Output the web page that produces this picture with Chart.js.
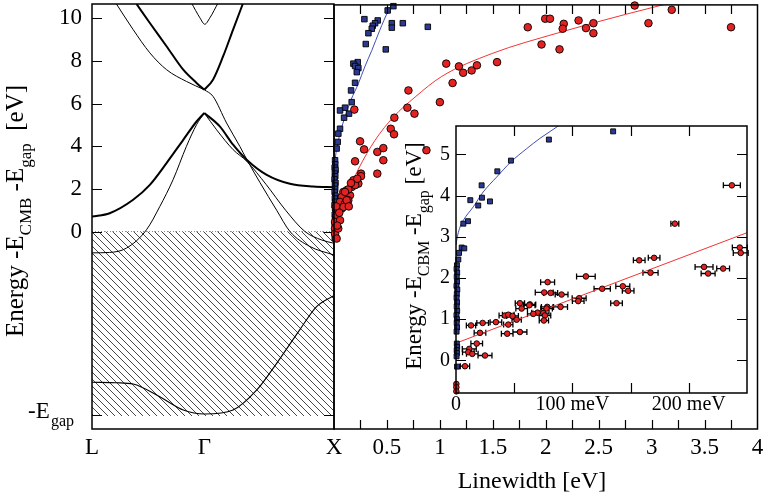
<!DOCTYPE html>
<html>
<head>
<meta charset="utf-8">
<script src="https://cdn.jsdelivr.net/npm/chart.js@4.4.0/dist/chart.umd.min.js"></script>
<style>
body { margin: 0; background: #fff; }
#wrap { position: relative; width: 764px; height: 496px; }
#wrap canvas { position: absolute; left: 0; top: 0; }
</style>
</head>
<body>
<div id="wrap">
	<canvas id="bands" width="764" height="496"></canvas>
	<canvas id="main" width="764" height="496"></canvas>
	<canvas id="inset" width="764" height="496"></canvas>
</div>
<script>
const FONT = "'Liberation Serif', 'Times New Roman', serif";
Chart.defaults.font.family = FONT;
Chart.defaults.color = '#000';

// ---- left panel: bands along L - Gamma - X (k: L=0, X=1)
const kTickPos = [0, 0.464, 1];
const kTickText = ['L', 'Γ', 'X'];
const energyTicks = [-8.6, 0, 2, 4, 6, 8, 10];
const eGap = -8.6;
const hatchBottom = -8.65;
const eMin = -9.26, eMax = 10.67;

// [k, E]
const bandCondL = [[0,0.7],[0.073,0.86],[0.17,1.49],[0.239,2.19],[0.308,3.21],[0.377,4.3],[0.432,5.16],[0.464,5.56]];
const bandCondR = [[0.464,5.56],[0.528,4.93],[0.583,4.07],[0.639,3.37],[0.722,2.66],[0.818,2.24],[0.914,2.11],[1,2.08]];
const bandThinL = [[0,-1.0],[0.073,-0.98],[0.142,-0.78],[0.225,0.08],[0.28,1.17],[0.335,2.43],[0.39,3.99],[0.432,5.01],[0.464,5.56]];
const bandThinR1 = [[0.464,5.56],[0.515,4.77],[0.583,3.84],[0.639,3.3],[0.72,2.2],[0.8,1.0],[0.88,0],[0.95,-0.4],[1,-0.55]];
const bandThinR2 = [[0.464,6.65],[0.5,6.34],[0.556,5.09],[0.611,3.99],[0.639,3.39],[0.694,2.3],[0.763,1.0],[0.818,0],[0.9,-0.7],[1,-1.1]];
const bandUpThin = [[0.101,10.67],[0.17,9.47],[0.239,8.38],[0.308,7.59],[0.39,7.04],[0.464,6.65]];
const bandUpThickL = [[0.184,10.67],[0.239,9.78],[0.308,8.69],[0.377,7.59],[0.432,6.97],[0.464,6.65]];
const bandUpThickR = [[0.464,6.65],[0.5,7.12],[0.542,8.22],[0.583,9.47],[0.623,10.67]];
const bandTop = [[0.411,10.72],[0.446,10.02],[0.466,9.72],[0.487,10.02],[0.521,10.72]];
const bandLow = [[0,-7.07],[0.101,-7.09],[0.17,-7.15],[0.28,-7.75],[0.377,-8.37],[0.466,-8.56],[0.583,-8.37],[0.681,-7.43],[0.763,-6.18],[0.859,-4.6],[0.928,-3.52],[1,-3.0]];

// ---- right panel: linewidth [eV] vs energy
const mainTickVals = [0, 0.5, 1, 1.5, 2, 2.5, 3, 3.5, 4];
const mainTickText = ['', '0.5', '1', '1.5', '2', '2.5', '3', '3.5', '4'];
const mainMinor = [0.25, 0.5, 0.75, 1, 1.25, 1.5, 1.75, 2, 2.25, 2.5, 2.75, 3, 3.25, 3.5, 3.75];

const mainBlueX = [0.561,0.507,0.287,0.413,0.388,0.366,0.357,0.325,0.546,0.546,0.650,0.886,0.300,0.489,0.224,0.183,0.199,0.230,0.215,0.199,0.161,0.167,0.104,0.057,0.142,0.095,0.057,0.041,0.035,0.025,0.010,
	0.012,0.006,0.015,0.008,0.012,0.005,0.014,0.009,0.011,0.006,0.013,0.008,0.012,0.005,0.010,0.014,0.007,0.011,0.009,0.006,0.012,0.008,0.010,0.007];
const mainBlueY = [10.61,10.41,10.0,9.94,9.81,9.69,9.55,9.34,9.81,9.60,9.81,9.64,8.83,8.58,7.98,7.91,7.80,7.70,7.51,7.01,6.65,6.10,5.84,5.71,5.56,5.37,4.85,4.62,4.23,3.92,3.37,
	3.18,3.02,2.91,2.74,2.62,2.47,2.31,2.18,2.02,1.88,1.71,1.57,1.42,1.26,1.12,0.97,0.81,0.66,0.52,0.37,0.21,0.08,-0.09,-0.27];
const mainRedX = [2.84,3.19,3.75,2.97,1.995,2.04,1.83,2.17,2.16,2.31,2.38,2.45,2.45,1.96,2.13,1.54,1.06,1.18,1.22,1.30,1.35,1.12,1.0,0.703,0.693,0.760,0.873,0.570,0.536,0.567,0.192,0.246,0.284,0.199,0.409,0.466,0.466,0.409,0.255,0.255,0.230,0.199,0.183,0.167,0.151,0.120,0.088,0.073,0.057,0.135,0.104,0.073,0.041,0.025,0.01,0.01,0.01,0.025,0.04,0.057,0.088,0.12,0.135,0.104,0.2,0.22,0.03,0.02,0.05,0.14,0.16];
const mainRedY = [10.64,10.44,9.62,9.81,10.02,10.02,9.62,9.78,9.55,9.94,9.58,9.81,9.34,8.81,8.58,7.98,7.91,7.78,7.48,7.59,7.83,7.00,6.10,6.65,5.84,5.56,3.84,5.37,4.85,4.59,5.75,4.26,3.88,3.32,3.76,3.94,3.37,2.74,2.74,2.62,2.27,2.35,2.43,2.11,1.72,1.96,1.88,1.64,1.41,1.49,1.33,1.10,1.02,0.78,0.47,0.16,-0.08,-0.31,0.16,0.55,1.17,1.49,2.0,1.88,2.2,2.5,0.3,1.2,0.9,1.2,2.3];
const mainBlueFitX = [0.005,0.01,0.03,0.06,0.104,0.16,0.23,0.29,0.357,0.43,0.514,0.56];
const mainBlueFitY = [2.8,3.3,4.0,4.7,5.4,6.2,6.97,7.75,8.53,9.45,10.41,10.8];
const mainRedFitX = [0,0.1,0.23,0.388,0.561,0.766,1.018,1.49,2.12,2.75,3.08,3.3];
const mainRedFitY = [0.42,1.5,2.95,4.31,5.40,6.34,7.31,8.38,9.36,10.22,10.64,10.9];

// ---- inset: linewidth [meV]
const insetTickVals = [0, 100, 200];
const insetTickText = ['0', '100 meV', '200 meV'];
const insetMinor = [50, 100, 150, 200];
const insetYTicks = [0, 1, 2, 3, 4, 5];
const insetBlueX = [135,79.8,47.2,35.5,22,22.3,29.2,12.3,19.1,10.3,6.3,4.9,7.1,2.6,2.0,
	0.8,0.5,1.0,0.6,0.9,0.4,1.1,0.7,0.5,0.9,0.6,1.0,0.4,0.8,0.6,0.9,0.5,0.7,1.0,0.6,0.8,0.5,0.9];
const insetBlueY = [5.56,5.36,4.85,4.59,4.25,3.95,3.86,3.89,3.76,3.38,3.32,2.74,2.72,2.61,2.45,
	2.31,2.22,2.13,2.03,1.91,1.81,1.72,1.61,1.52,1.41,1.31,1.2,1.1,1.0,0.91,0.8,0.7,0.41,0.33,0.25,0.18,0.1,-0.15];
const insetRedX = [237,188,243.8,244.6,170.2,157.4,167.1,213.1,216.6,229.5,111.6,125.6,143.3,147.9,78.7,75.8,81.3,90.7,105.8,137.9,54.9,63.5,56.4,62.9,89.8,105,78.4,77.8,70.1,66.4,74.9,76.4,75.5,42,44.9,48.6,52.1,44.9,34.3,22.9,12.9,20.6,44,54.9,17.8,11.4,10.6,14,24.9,7.7,0.3,0.3,0.3];
const insetRedY = [4.25,3.32,2.74,2.61,2.49,2.43,2.13,2.27,2.11,2.23,2.04,1.74,1.80,1.69,1.90,1.65,1.64,1.60,1.51,1.39,1.39,1.36,1.26,1.34,1.30,1.44,1.30,1.26,1.16,1.13,1.15,1.09,0.97,1.09,1.11,1.08,0.99,0.87,0.93,0.91,0.85,0.67,0.65,0.69,0.41,0.28,0.20,0.16,0.12,-0.14,-0.57,-0.65,-0.75];
const insetRedErr = [7.3,3.4,6.4,6.4,5,5,6.5,7.7,6,5.5,8,7,6,5,6,7.7,6,5.5,6,5,4,5,5,5,6,5,5,5,5,5,5,5,4,5,5,5,4,4,5,5,4,5,5,6,5,6,5,5,6,4,0,0,0];
const insetBlueFitX = [0,1,3,6.3,14.9,23.4,34.9,47.2,60.7,72.1,87.8,95];
const insetBlueFitY = [2.8,2.98,3.2,3.40,3.73,4.09,4.45,4.82,5.14,5.39,5.69,5.85];
const insetRedFitX = [0, 250];
const insetRedFitY = [0.42, 3.1];

const RED = '#e52222', BLUE = '#2b3990';

// helpers
const pairs = a => a.map(p => ({x: p[0], y: p[1]}));
const zip = (xs, ys) => xs.map((x, i) => ({x: x, y: ys[i]}));

function bandLine(arr, w) {
	return {data: pairs(arr), borderColor: '#000', borderWidth: w, pointRadius: 0,
		cubicInterpolationMode: 'monotone', tension: 0.4, fill: false};
}
function marks(data, style, r, color) {
	return {data: data, showLine: false, pointStyle: style, pointRadius: r,
		pointBackgroundColor: color, pointBorderColor: '#000', pointBorderWidth: 0.9, clip: false};
}
function fitLine(data, color) {
	return {data: data, borderColor: color, borderWidth: 1, pointRadius: 0,
		cubicInterpolationMode: 'monotone', tension: 0.4, fill: false};
}
// keep chart areas exactly where the reference has them
function fixX(h) {
	return s => { s.height = h; s.paddingLeft = 0; s.paddingRight = 0; };
}
function fixY(w) {
	return s => { s.width = w; s.paddingTop = 0; s.paddingBottom = 0; };
}

function frame(w) {
	return {id: 'frame', afterDraw(chart) {
		const a = chart.chartArea, c = chart.ctx;
		c.save(); c.strokeStyle = '#000'; c.lineWidth = w;
		c.strokeRect(a.left, a.top, a.right - a.left, a.bottom - a.top);
		c.restore();
	}};
}
function innerTicks(xVals, yVals, len) {
	return {id: 'innerTicks', afterDatasetsDraw(chart) {
		const a = chart.chartArea, c = chart.ctx;
		const xs = chart.scales.x, ys = chart.scales.y;
		c.save(); c.strokeStyle = '#000'; c.lineWidth = 1.2; c.beginPath();
		xVals.forEach(v => {
			const p = Math.round(xs.getPixelForValue(v)) + 0.5;
			c.moveTo(p, a.bottom); c.lineTo(p, a.bottom - len);
			c.moveTo(p, a.top); c.lineTo(p, a.top + len);
		});
		yVals.forEach(v => {
			const p = Math.round(ys.getPixelForValue(v)) + 0.5;
			c.moveTo(a.left, p); c.lineTo(a.left + len, p);
			c.moveTo(a.right, p); c.lineTo(a.right - len, p);
		});
		c.stroke(); c.restore();
	}};
}
// text with subscripts, optionally rotated, centred on (cx, baseline)
function richText(c, cx, cy, parts, size, subSize, subDrop, rotated) {
	c.save();
	c.fillStyle = '#000'; c.textBaseline = 'alphabetic'; c.textAlign = 'left';
	let total = 0;
	parts.forEach(p => { c.font = (p.sub ? subSize : size) + 'px ' + FONT; p.w = c.measureText(p.t).width; total += p.w; });
	c.translate(cx, cy);
	if (rotated) c.rotate(-Math.PI / 2);
	let x = -total / 2;
	parts.forEach(p => {
		c.font = (p.sub ? subSize : size) + 'px ' + FONT;
		c.fillText(p.t, x, p.sub ? subDrop : 0);
		x += p.w;
	});
	c.restore();
}

// hatch pattern for the filled valence region
const bandsCanvas = document.getElementById('bands');
const tile = document.createElement('canvas');
tile.width = 7; tile.height = 7;
(function () {
	const g = tile.getContext('2d');
	g.strokeStyle = '#333'; g.lineWidth = 0.9;
	g.beginPath();
	g.moveTo(0, 0); g.lineTo(7, 7);
	g.moveTo(-1, 6); g.lineTo(1, 8);
	g.moveTo(6, -1); g.lineTo(8, 1);
	g.stroke();
})();
const hatch = bandsCanvas.getContext('2d').createPattern(tile, 'repeat');

const common = {responsive: false, animation: false, events: [],
	plugins: {legend: {display: false}, tooltip: {enabled: false}}};
const noGrid = {display: false, drawTicks: false};

// left chart
new Chart(bandsCanvas, {
	type: 'line',
	data: {datasets: [
		bandLine(bandCondL, 2), bandLine(bandCondR, 2),
		bandLine(bandThinL, 1), bandLine(bandThinR1, 1), bandLine(bandThinR2, 1),
		bandLine(bandUpThin, 1), bandLine(bandUpThickL, 2), bandLine(bandUpThickR, 2),
		bandLine(bandTop, 1), bandLine(bandLow, 1.1),
		{data: pairs([[0, 0], [1, 0]]), borderColor: '#888', borderWidth: 1, borderDash: [1, 2],
			pointRadius: 0, fill: {value: hatchBottom}, backgroundColor: hatch}
	]},
	options: Object.assign({}, common, {
		layout: {padding: {left: 0, top: 4, right: 430, bottom: 0}},
		scales: {
			x: {type: 'linear', min: 0, max: 1, grid: noGrid, border: {display: false},
				afterBuildTicks: s => { s.ticks = kTickPos.map(v => ({value: v})); },
				afterFit: fixX(67),
				ticks: {autoSkip: false, maxRotation: 0, padding: 5, font: {size: 23},
					callback: (v, i) => kTickText[i]}},
			y: {min: eMin, max: eMax, grid: noGrid, border: {display: false},
				afterBuildTicks: s => { s.ticks = energyTicks.map(v => ({value: v})); },
				afterFit: fixY(92),
				ticks: {autoSkip: false, padding: 10, font: {size: 23},
					callback: v => (v === eGap ? '' : String(v))}}
		}
	}),
	plugins: [frame(1.5), innerTicks([], energyTicks, 10), {
		id: 'labels', afterDraw(chart) {
			const c = chart.ctx, y = chart.scales.y.getPixelForValue(eGap);
			c.save(); c.fillStyle = '#000'; c.textBaseline = 'alphabetic';
			c.font = '23px ' + FONT; c.textAlign = 'left';
			c.fillText('-E', 28, y + 3);
			c.font = '16px ' + FONT;
			c.fillText('gap', 51, y + 11);
			c.restore();
			richText(c, 23, 211, [{t: 'Energy -E'}, {t: 'CMB', sub: true}, {t: ' -E'}, {t: 'gap', sub: true}, {t: '  [eV]'}],
				25, 17, 8, true);
		}
	}]
});

// right chart
new Chart(document.getElementById('main'), {
	type: 'line',
	data: {datasets: [
		marks(zip(mainRedX, mainRedY), 'circle', 3.8, RED),
		marks(zip(mainBlueX, mainBlueY), 'rect', 3.9, BLUE),
		fitLine(zip(mainRedFitX, mainRedFitY), '#f03535'),
		fitLine(zip(mainBlueFitX, mainBlueFitY), '#3f4fb5')
	]},
	options: Object.assign({}, common, {
		layout: {padding: {left: 334, top: 4, right: 6.5, bottom: 0}},
		scales: {
			x: {type: 'linear', min: 0, max: 4, grid: noGrid, border: {display: false},
				afterBuildTicks: s => { s.ticks = mainTickVals.map(v => ({value: v})); },
				afterFit: fixX(67),
				ticks: {autoSkip: false, maxRotation: 0, padding: 5, font: {size: 23},
					callback: (v, i) => mainTickText[i]}},
			y: {display: false, min: eMin, max: eMax}
		}
	}),
	plugins: [frame(1.5), innerTicks(mainMinor, [], 9), {
		id: 'xtitle', afterDraw(chart) {
			richText(chart.ctx, 532, 488, [{t: 'Linewidth [eV]'}], 24, 16, 0, false);
		}
	}]
});

// inset chart
new Chart(document.getElementById('inset'), {
	type: 'line',
	data: {datasets: [
		marks(zip(insetRedX, insetRedY), 'circle', 2.8, RED),
		marks(zip(insetBlueX, insetBlueY), 'rect', 3.5, BLUE),
		fitLine(zip(insetRedFitX, insetRedFitY), '#f03535'),
		fitLine(zip(insetBlueFitX, insetBlueFitY), '#3f4fb5')
	]},
	options: Object.assign({}, common, {
		layout: {padding: {left: 0, top: 126, right: 17, bottom: 0}},
		scales: {
			x: {type: 'linear', min: 0, max: 250, grid: noGrid, border: {display: false},
				afterBuildTicks: s => { s.ticks = insetTickVals.map(v => ({value: v})); },
				afterFit: fixX(103),
				ticks: {autoSkip: false, maxRotation: 0, padding: 0, font: {size: 20},
					callback: (v, i) => insetTickText[i]}},
			y: {min: -0.79, max: 5.69, grid: noGrid, border: {display: false},
				afterBuildTicks: s => { s.ticks = insetYTicks.map(v => ({value: v})); },
				afterFit: fixY(456),
				ticks: {autoSkip: false, padding: 6, font: {size: 20}}}
		}
	}),
	plugins: [{
		id: 'whiteBg', beforeDraw(chart) {
			const a = chart.chartArea, c = chart.ctx;
			c.save(); c.fillStyle = '#fff';
			c.fillRect(a.left, a.top, a.right - a.left, a.bottom - a.top);
			c.restore();
		}
	}, {
		id: 'errBars', beforeDatasetsDraw(chart) {
			const c = chart.ctx, xs = chart.scales.x, ys = chart.scales.y;
			c.save(); c.strokeStyle = '#000'; c.lineWidth = 1.3; c.beginPath();
			insetRedX.forEach((x, i) => {
				const e = insetRedErr[i];
				if (!e) return;
				const y = ys.getPixelForValue(insetRedY[i]);
				const x0 = xs.getPixelForValue(x - e), x1 = xs.getPixelForValue(x + e);
				c.moveTo(x0, y); c.lineTo(x1, y);
				c.moveTo(x0, y - 3); c.lineTo(x0, y + 3);
				c.moveTo(x1, y - 3); c.lineTo(x1, y + 3);
			});
			c.stroke(); c.restore();
		}
	}, frame(1.5), innerTicks(insetMinor, insetYTicks, 10), {
		id: 'ytitle', afterDraw(chart) {
			richText(chart.ctx, 421, 256, [{t: 'Energy -E'}, {t: 'CBM', sub: true}, {t: ' -E'}, {t: 'gap', sub: true}, {t: ' [eV]'}],
				23, 16, 8, true);
		}
	}]
});
</script>
</body>
</html>
